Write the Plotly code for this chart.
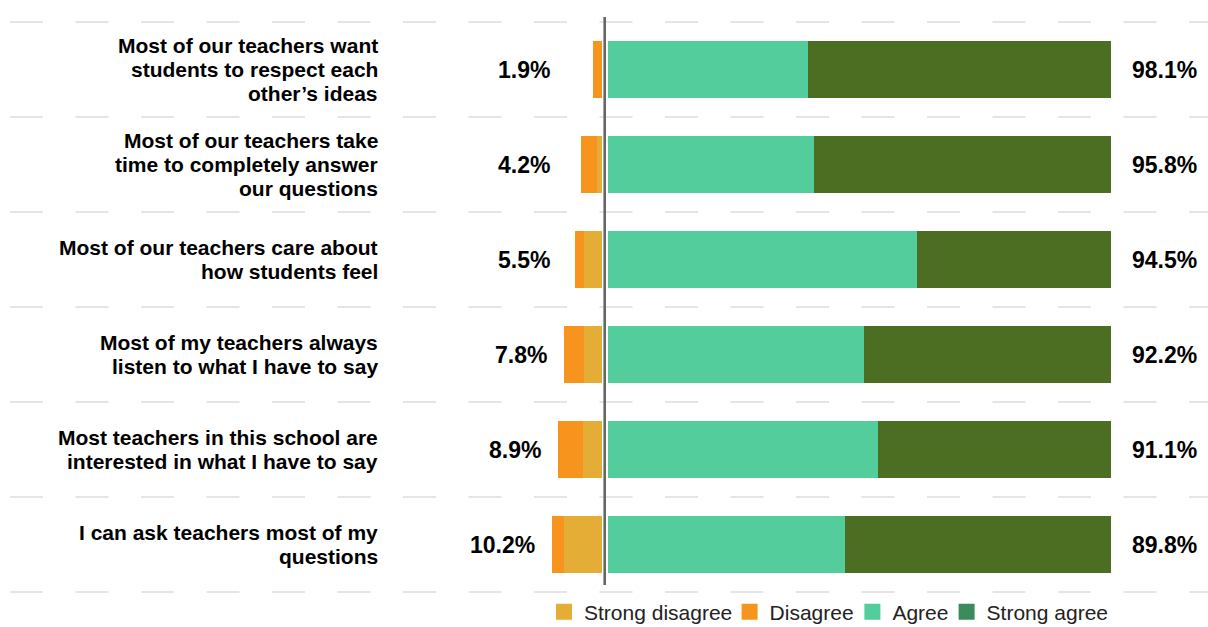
import plotly.graph_objects as go

W, H = 1208, 627
FONT = "Liberation Sans, Arial, Helvetica, sans-serif"

# Survey statements (top to bottom), line breaks as <br>
statements = [
    "Most of our teachers want<br>students to respect each<br>other’s ideas",
    "Most of our teachers take<br>time to completely answer<br>our questions",
    "Most of our teachers care about<br>how students feel",
    "Most of my teachers always<br>listen to what I have to say",
    "Most teachers in this school are<br>interested in what I have to say",
    "I can ask teachers most of my<br>questions",
]

# Response shares in percent
strong_disagree = [0.0, 1.1, 3.6, 3.7, 3.9, 7.8]
disagree = [1.9, 3.1, 1.9, 4.1, 5.0, 2.4]
agree = [39.1, 39.3, 58.2, 47.0, 49.0, 42.4]
strong_agree = [59.0, 56.5, 36.3, 45.2, 42.1, 47.4]

series_names = ["Strong disagree", "Disagree", "Agree", "Strong agree"]
bar_colors = ["#E4AD36", "#F7941E", "#53CD9B", "#4B6E22"]
legend_colors = ["#E4AD36", "#F7941E", "#53CD9B", "#3A8C5C"]

rows = list(range(len(statements)))
disagree_total = [s + d for s, d in zip(strong_disagree, disagree)]
agree_total = [a + s for a, s in zip(agree, strong_agree)]

# the agreeing side is shown as a full-width track split between the two levels
agree_part = [a / t * 100 for a, t in zip(agree, agree_total)]
strong_agree_part = [s / t * 100 for s, t in zip(strong_agree, agree_total)]

BAR_W = 0.61
fig = go.Figure()

# negative side (left subplot), nearest-to-zero first
for vals, name, color in [
    (strong_disagree, series_names[0], bar_colors[0]),
    (disagree, series_names[1], bar_colors[1]),
]:
    fig.add_trace(go.Bar(
        y=rows, x=[-v for v in vals], orientation="h", name=name,
        marker=dict(color=color, line=dict(width=0)), width=BAR_W,
        xaxis="x", yaxis="y", showlegend=False, hoverinfo="skip",
    ))

# positive side (right subplot)
for vals, name, color in [
    (agree_part, series_names[2], bar_colors[2]),
    (strong_agree_part, series_names[3], bar_colors[3]),
]:
    fig.add_trace(go.Bar(
        y=rows, x=vals, orientation="h", name=name,
        marker=dict(color=color, line=dict(width=0)), width=BAR_W,
        xaxis="x2", yaxis="y", showlegend=False, hoverinfo="skip",
    ))

# legend entries, one legend box each so their spacing can be set
legend_left_px = [544, 729.6, 852.4, 946.6]
for k, (name, color) in enumerate(zip(series_names, legend_colors)):
    lg = "legend" if k == 0 else f"legend{k + 1}"
    fig.add_trace(go.Scatter(
        x=[None], y=[None], mode="markers", name=name,
        marker=dict(symbol="square", size=16, color=color),
        xaxis="x2", yaxis="y", legend=lg, showlegend=True,
    ))

legends = {}
for k, px in enumerate(legend_left_px):
    key = "legend" if k == 0 else f"legend{k + 1}"
    legends[key] = dict(
        x=px / W, y=1 - 612 / H, xanchor="left", yanchor="middle",
        orientation="h", bgcolor="rgba(0,0,0,0)", borderwidth=0,
        font=dict(family=FONT, size=21, color="#222222"),
        itemwidth=30,
    )

# left and right scales in pixels per percent
LEFT_ZERO, LEFT_SCALE = 602, 4.9
RIGHT_ZERO, RIGHT_SCALE = 607.5, 5.025

# row placement: centre of row i at 69.5 + 95 * i pixels from the top
ROW_TOP, ROW_STEP = 69.5, 95.0
y_top = -ROW_TOP / ROW_STEP
y_bottom = (H - ROW_TOP) / ROW_STEP

shapes = []
for i in range(len(statements) + 1):
    shapes.append(dict(
        type="line", xref="paper", yref="y", x0=10 / W, x1=1,
        y0=i - 0.5, y1=i - 0.5, layer="below",
        line=dict(color="#CCCCCC", width=1.2, dash="33px,32.5px"),
    ))
# centre divider
shapes.append(dict(
    type="line", xref="paper", yref="paper",
    x0=604.7 / W, x1=604.7 / W, y0=1 - 17 / H, y1=1 - 585 / H,
    layer="above", line=dict(color="#666666", width=2.6),
))

annotations = []
LINE_H = 24.3
for i, text in enumerate(statements):
    lines = text.split("<br>")
    n = len(lines)
    for k, line in enumerate(lines):
        annotations.append(dict(
            xref="paper", yref="y", x=380 / W, y=i, text=line,
            xanchor="right", yanchor="middle", showarrow=False,
            yshift=-(k - (n - 1) / 2) * LINE_H,
            font=dict(family=FONT, size=21, color="#000000", weight="bold"),
        ))

for i in rows:
    # left total sits beside the bar, never closer to the centre than the column
    x_left = min(-50 / LEFT_SCALE, -(disagree_total[i] + 15 / LEFT_SCALE))
    annotations.append(dict(
        xref="x", yref="y", x=x_left, y=i, text=f"{disagree_total[i]:.1f}%",
        xanchor="right", yanchor="middle", showarrow=False,
        font=dict(family=FONT, size=23, color="#000000", weight="bold"),
    ))
    annotations.append(dict(
        xref="paper", yref="y", x=1199 / W, y=i, text=f"{agree_total[i]:.1f}%",
        xanchor="right", yanchor="middle", showarrow=False,
        font=dict(family=FONT, size=23, color="#000000", weight="bold"),
    ))

fig.update_layout(
    width=W, height=H,
    margin=dict(l=0, r=0, t=0, b=0, pad=0, autoexpand=False),
    paper_bgcolor="white", plot_bgcolor="white",
    barmode="relative", bargap=0,
    xaxis=dict(domain=[0, LEFT_ZERO / W], range=[-LEFT_ZERO / LEFT_SCALE, 0],
               visible=False, fixedrange=True),
    xaxis2=dict(domain=[RIGHT_ZERO / W, 1], range=[0, (W - RIGHT_ZERO) / RIGHT_SCALE],
                visible=False, anchor="y", fixedrange=True),
    yaxis=dict(range=[y_bottom, y_top], visible=False, fixedrange=True),
    shapes=shapes, annotations=annotations,
    showlegend=True,
    **legends,
)

fig.write_html("out.html")
